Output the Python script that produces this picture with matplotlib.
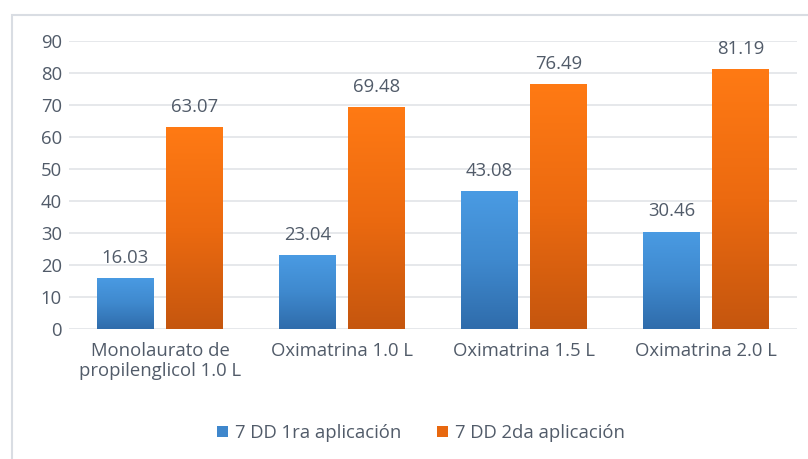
import numpy as np
import matplotlib
matplotlib.use("Agg")
import matplotlib.pyplot as plt
from matplotlib.colors import LinearSegmentedColormap
from matplotlib.patches import Rectangle

categories = ["Monolaurato de\npropilenglicol 1.0 L", "Oximatrina 1.0 L",
              "Oximatrina 1.5 L", "Oximatrina 2.0 L"]
serie_1ra = [16.03, 23.04, 43.08, 30.46]
serie_2da = [63.07, 69.48, 76.49, 81.19]
nombres = ["7 DD 1ra aplicación", "7 DD 2da aplicación"]
yticks = [0, 10, 20, 30, 40, 50, 60, 70, 80, 90]

plt.rcParams['font.family'] = ['Open Sans', 'DejaVu Sans']
txt_color = '#515b69'
fs = 13.3

fig = plt.figure(figsize=(8.08, 4.59), dpi=100)
fig.patches.append(Rectangle((12/808, -0.1), 1.0, 1 - 15/459 + 0.1,
                             transform=fig.transFigure, fill=False,
                             edgecolor='#d9dde3', linewidth=1.5))
ax = fig.add_axes([69/808, 130/459, 728/808, 288/459])

cmap_blue = LinearSegmentedColormap.from_list("b", ["#2f6cab", "#3f89ce", "#4a9be3"])
cmap_orange = LinearSegmentedColormap.from_list("o", ["#c5560e", "#ec6a10", "#ff7a14"])
grad = np.linspace(0, 1, 256).reshape(-1, 1)

x = np.arange(len(categories))
w = 0.313
off = 0.19

def gradient_bars(xs, vals, cmap, color):
    bars = ax.bar(xs, vals, w, color=color, zorder=2, linewidth=0)
    for b in bars:
        x0, y0 = b.get_x(), b.get_y()
        im = ax.imshow(grad, extent=[x0, x0 + b.get_width(), y0, y0 + b.get_height()],
                       origin='lower', aspect='auto', cmap=cmap, zorder=3)
        im.set_clip_path(b)
    for xi, v in zip(xs, vals):
        ax.annotate(f"{v:.2f}", (xi, v), xytext=(0, 8), textcoords='offset points',
                    ha='center', va='bottom', fontsize=fs, color=txt_color)
    return bars

b1 = gradient_bars(x - off, serie_1ra, cmap_blue, "#3f87cc")
b2 = gradient_bars(x + off, serie_2da, cmap_orange, "#e8680f")

ax.set_xlim(-0.5, len(categories) - 0.5)
ax.set_ylim(0, 90)
ax.set_yticks(yticks)
ax.set_xticks(x)
ax.set_xticklabels(categories)
ax.yaxis.grid(True, color='#e1e4e8', linewidth=1.2, zorder=0)
ax.set_axisbelow(True)
for s in ax.spines.values():
    s.set_visible(False)
ax.tick_params(axis='both', length=0, labelsize=fs, labelcolor=txt_color)
ax.tick_params(axis='y', pad=5)
ax.tick_params(axis='x', pad=9)

fig.legend([b1, b2], nombres, loc='center', bbox_to_anchor=(421/808, 1 - 433/459),
           ncol=2, frameon=False, fontsize=fs, labelcolor=txt_color,
           handlelength=0.6, handleheight=0.6, handletextpad=0.4, columnspacing=1.9)

fig.savefig("out.png", dpi=100)
